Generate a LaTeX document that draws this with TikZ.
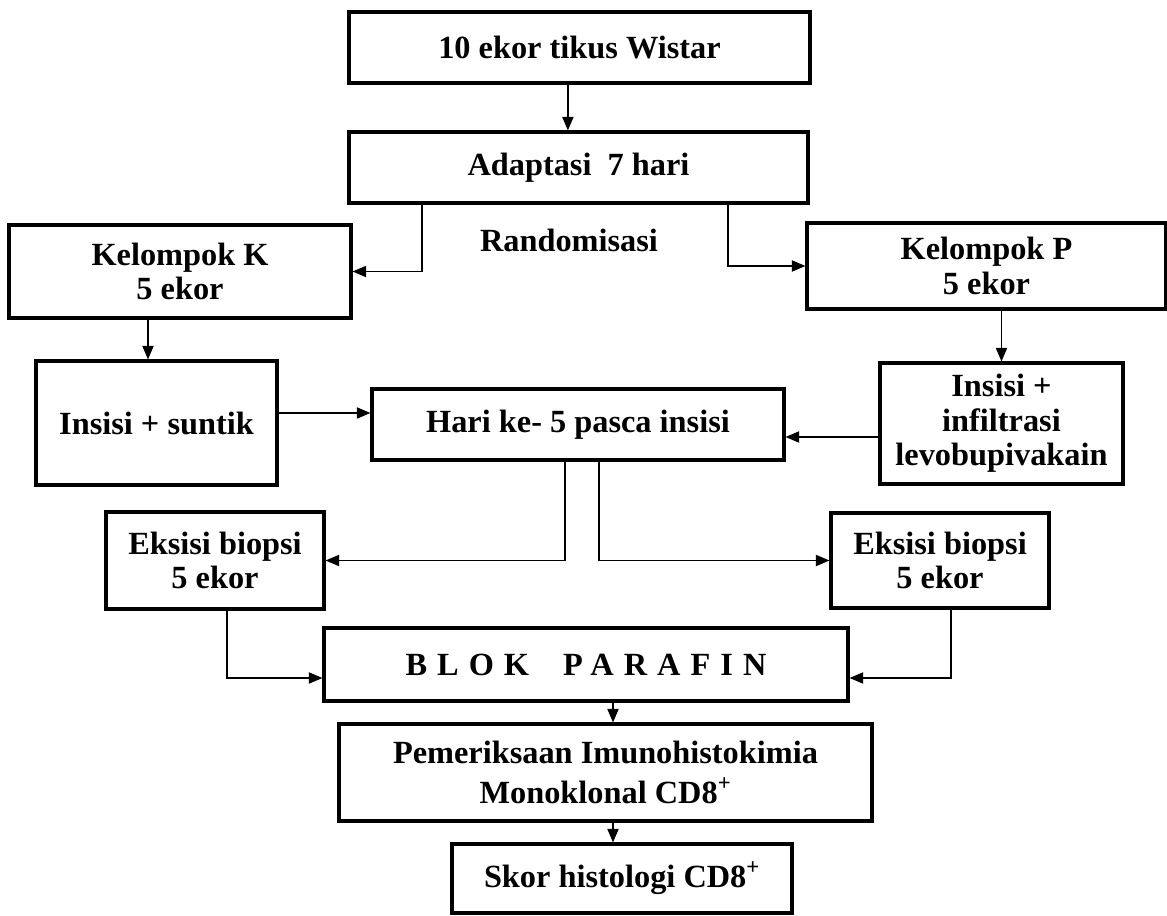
\documentclass[tikz,border=0pt]{standalone}
\usepackage{fontspec}
\setmainfont{Liberation Serif}
\usetikzlibrary{arrows.meta}

\begin{document}
\begin{tikzpicture}[x=0.025cm, y=-0.025cm, every node/.style={font=\bfseries\fontsize{23}{24.5}\selectfont},
	box/.style 2 args={draw, line width=2.2pt, align=center, inner sep=2pt, minimum width=#1*0.025cm, minimum height=#2*0.025cm},
	arr/.style={line width=1pt, -{Triangle[length=0.34cm, width=0.28cm]}}]
	\useasboundingbox (0,0) rectangle (1167,916);
	\node[box={461}{71}] (wistar) at (579.5,47.5) {10 ekor tikus Wistar};
	\node[box={459}{71}] (adapt) at (578.5,167.5) {Adaptasi\ \ 7 hari};
	\node (rand) at (569,240) {Randomisasi};
	\node[box={342}{93}] (kelK) at (180,271.5) {Kelompok K\\5 ekor};
	\node[box={359}{86}] (kelP) at (986.5,266) {Kelompok P\\5 ekor};
	\node[box={241}{124}] (insK) at (156.5,423) {Insisi + suntik};
	\node[box={412}{71}] (hari) at (578,424.5) {Hari ke- 5 pasca insisi};
	\node[box={243}{121}] (insP) at (1001.5,423.5) {Insisi +\\infiltrasi\\levobupivakain};
	\node[box={218}{97}] (eksK) at (215,560.5) {Eksisi biopsi\\5 ekor};
	\node[box={218}{95}] (eksP) at (940,560.5) {Eksisi biopsi\\5 ekor};
	\node[box={524}{73}] (blok) at (586,664.5) {\addfontfeature{LetterSpace=31}BLOK\hspace{1.05em}PARAFIN};
	\node[box={533}{97}] (pem) at (605.5,772.5) {Pemeriksaan Imunohistokimia\\[4pt]Monoklonal CD8\textsuperscript{+}};
	\node[box={340}{69}] (skor) at (622,878.5) {Skor histologi CD8\textsuperscript{+}};
	\draw[arr] ([xshift=-0.29cm]wistar.south) -- ([xshift=-0.29cm]wistar.south |- adapt.north);
	\draw[arr] ([xshift=-3.9125cm]adapt.south) |- (kelK);
	\draw[arr] ([xshift=3.7375cm]adapt.south) |- (kelP);
	\draw[arr] ([xshift=-0.2125cm]insK.north |- kelK.south) -- ([xshift=-0.2125cm]insK.north);
	\draw[arr] (insP.north |- kelP.south) -- (insP.north);
	\draw[arr] ([yshift=0.25cm]insK.east) -- ([yshift=0.25cm]insK.east -| hari.west);
	\draw[arr] ([yshift=-0.3375cm]insP.west) -- ([yshift=-0.3375cm]insP.west -| hari.east);
	\draw[arr] ([xshift=-0.325cm]hari.south) |- (eksK);
	\draw[arr] ([xshift=0.525cm]hari.south) |- (eksP);
	\draw[arr] ([xshift=0.3cm]eksK.south) |- ([yshift=-0.3375cm]blok.west);
	\draw[arr] ([xshift=0.275cm]eksP.south) |- ([yshift=-0.3375cm]blok.east);
	\draw[arr] ([xshift=0.675cm]blok.south) -- ([xshift=0.675cm]blok.south |- pem.north);
	\draw[arr] ([xshift=0.1875cm]pem.south) -- ([xshift=0.1875cm]pem.south |- skor.north);
\end{tikzpicture}
\end{document}
